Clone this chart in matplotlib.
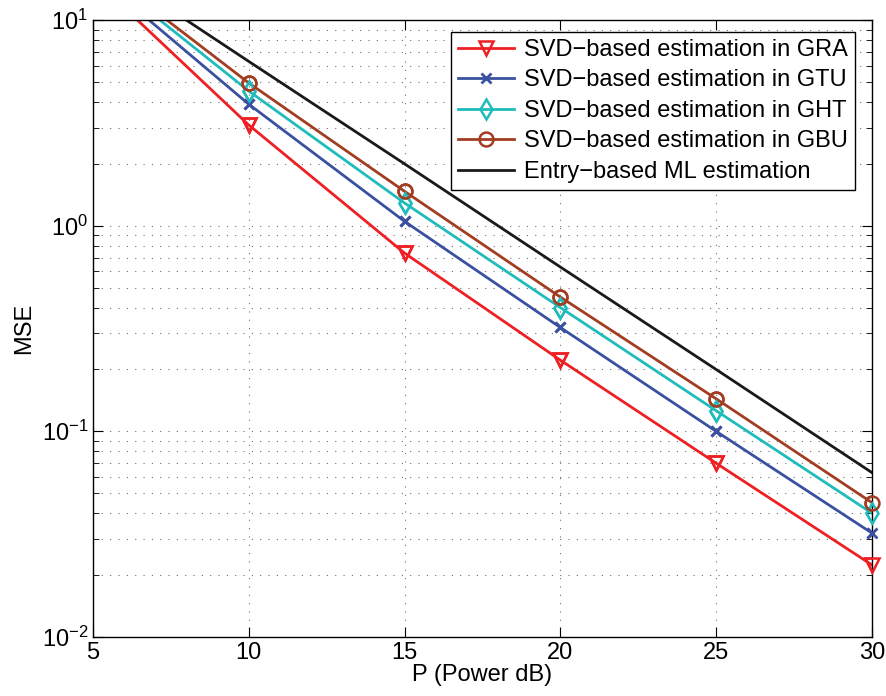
import matplotlib.pyplot as plt
from matplotlib.ticker import LogLocator, NullFormatter

plt.rcParams['font.family'] = ['Liberation Sans', 'DejaVu Sans']
plt.rcParams['mathtext.fontset'] = 'custom'
plt.rcParams['mathtext.rm'] = 'Liberation Sans'
plt.rcParams['mathtext.it'] = 'Liberation Sans:italic'
plt.rcParams['mathtext.bf'] = 'Liberation Sans:bold'

p_db = [5, 10, 15, 20, 25, 30]
mse_gra = [16.0, 3.09, 0.736, 0.222, 0.070, 0.0224]
mse_gtu = [17.0, 3.9, 1.05, 0.32, 0.100, 0.032]
mse_ght = [18.2, 4.52, 1.29, 0.40, 0.126, 0.040]
mse_gbu = [18.9, 4.95, 1.47, 0.45, 0.144, 0.045]
mse_ml = [20.0, 6.3, 2.0, 0.63, 0.20, 0.063]

labels = ['SVD\u2212based estimation in GRA', 'SVD\u2212based estimation in GTU',
          'SVD\u2212based estimation in GHT', 'SVD\u2212based estimation in GBU',
          'Entry\u2212based ML estimation']

fig = plt.figure(figsize=(8.86, 6.96), dpi=100)
ax = fig.add_axes([0.105, 0.085, 0.879, 0.886])

lw = 2
series = [
    (mse_gra, '#ee2024', dict(marker='v', ms=10, mfc='none', mew=1.8)),
    (mse_gtu, '#3a50a0', dict(marker='x', ms=7, mew=2)),
    (mse_ght, '#20bcbc', dict(marker='d', ms=10, mfc='none', mew=1.8)),
    (mse_gbu, '#a33d22', dict(marker='o', ms=10, mfc='none', mew=1.8)),
]
for (vals, c, mkw), lab in zip(series, labels):
    # line clipped to the axes, markers drawn separately so the edge ones are not cut
    ax.plot(p_db, vals, color=c, lw=lw, label=lab, markevery=list(range(1, 6)), **mkw)
    ax.plot(p_db[1:], vals[1:], ls='none', color=c, clip_on=False, zorder=3, **mkw)
ax.plot(p_db, mse_ml, color='#1a1a1a', lw=lw, label=labels[4])

ax.set_yscale('log')
ax.set_xlim(5, 30)
ax.set_ylim(1e-2, 1e1)
ax.set_xticks([5, 10, 15, 20, 25, 30])
ax.yaxis.set_major_locator(LogLocator(base=10, numticks=10))
ax.yaxis.set_minor_locator(LogLocator(base=10, subs=range(2, 10), numticks=10))
ax.yaxis.set_minor_formatter(NullFormatter())

ax.grid(True, which='major', axis='both', ls=(0, (1, 6.5)), color='#707070', lw=0.8)
ax.grid(True, which='minor', axis='y', ls=(0, (1, 6.5)), color='#707070', lw=0.8)

ax.tick_params(which='both', direction='in', top=True, right=True, labelsize=17)
ax.tick_params(which='major', length=7)
ax.tick_params(which='minor', length=4)
for s in ax.spines.values():
    s.set_linewidth(1.0)

ax.set_xlabel('P (Power dB)', fontsize=17, labelpad=0)
ax.set_ylabel('MSE', fontsize=17, labelpad=5)

leg = ax.legend(loc='upper right', bbox_to_anchor=(0.978, 0.981), fontsize=17,
                fancybox=False, framealpha=1, edgecolor='black', handlelength=2.4,
                borderpad=0.3, labelspacing=0.36, handletextpad=0.4, borderaxespad=0)
leg.get_frame().set_linewidth(1.0)
leg.set_zorder(5)

fig.savefig('out.png', dpi=100)
